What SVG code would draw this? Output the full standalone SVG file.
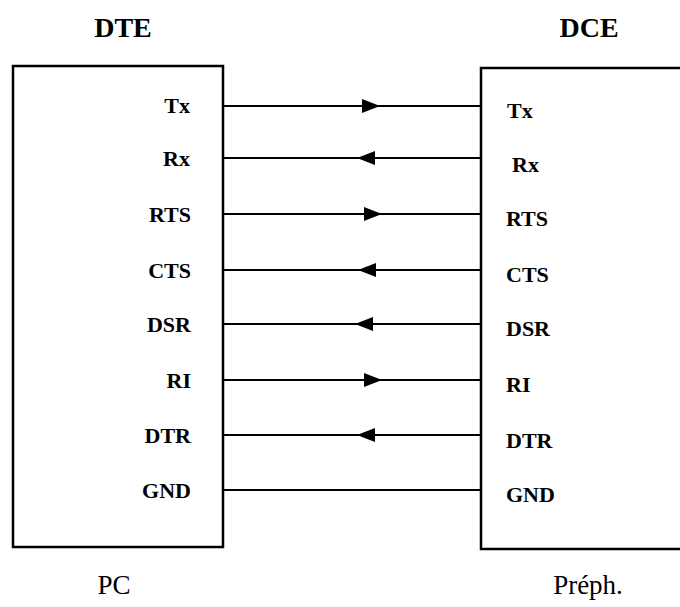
<svg xmlns="http://www.w3.org/2000/svg" width="680" height="607" viewBox="0 0 680 607">
  <style>
    .box { fill: #fff; stroke: #000; stroke-width: 2.5; }
    .wire { stroke: #000; stroke-width: 2; fill: none; }
    .head { fill: #000; }
    text { font-family: 'Liberation Serif', 'Times New Roman', serif; }
    .title { font-weight: bold; font-size: 28px; text-anchor: middle; }
    .sig { font-weight: bold; font-size: 22px; }
    .sigL { text-anchor: end; }
    .sigR { text-anchor: start; }
    .name { font-size: 27px; text-anchor: middle; }
  </style>
  <defs>
    <!-- filled arrowheads, tip at origin -->
    <polygon id="headRight" class="head" points="0,0 -18,-7 -18,7"/>
    <polygon id="headLeft" class="head" points="0,0 18,-7 18,7"/>
  </defs>

  <rect width="680" height="607" fill="#fff"/>

  <!-- Data terminal equipment -->
  <g id="dte">
    <text class="title" x="123" y="37">DTE</text>
    <rect class="box" x="13" y="66" width="210" height="481"/>
    <text class="sig sigL" x="190" y="113">Tx</text>
    <text class="sig sigL" x="190" y="166">Rx</text>
    <text class="sig sigL" x="191" y="222">RTS</text>
    <text class="sig sigL" x="191" y="278">CTS</text>
    <text class="sig sigL" x="191" y="332">DSR</text>
    <text class="sig sigL" x="191" y="388">RI</text>
    <text class="sig sigL" x="191" y="443">DTR</text>
    <text class="sig sigL" x="191" y="498">GND</text>
    <text class="name" x="114" y="594">PC</text>
  </g>

  <!-- Data communication equipment -->
  <g id="dce">
    <text class="title" x="589" y="37">DCE</text>
    <rect class="box" x="481" y="68" width="210" height="481"/>
    <text class="sig sigR" x="507" y="118">Tx</text>
    <text class="sig sigR" x="512" y="172">Rx</text>
    <text class="sig sigR" x="506" y="226">RTS</text>
    <text class="sig sigR" x="506" y="282">CTS</text>
    <text class="sig sigR" x="506" y="336">DSR</text>
    <text class="sig sigR" x="506" y="392">RI</text>
    <text class="sig sigR" x="506" y="448">DTR</text>
    <text class="sig sigR" x="506" y="502">GND</text>
    <text class="name" x="588" y="594">Préph.</text>
  </g>

  <!-- signal lines between the two devices -->
  <g id="connectors">
    <line class="wire" x1="223" y1="106" x2="481" y2="106"/>
    <use href="#headRight" x="380" y="106"/>
    <line class="wire" x1="223" y1="158" x2="481" y2="158"/>
    <use href="#headLeft" x="357" y="158"/>
    <line class="wire" x1="223" y1="214" x2="481" y2="214"/>
    <use href="#headRight" x="382" y="214"/>
    <line class="wire" x1="223" y1="270" x2="481" y2="270"/>
    <use href="#headLeft" x="358" y="270"/>
    <line class="wire" x1="223" y1="324" x2="481" y2="324"/>
    <use href="#headLeft" x="355" y="324"/>
    <line class="wire" x1="223" y1="380" x2="481" y2="380"/>
    <use href="#headRight" x="382" y="380"/>
    <line class="wire" x1="223" y1="435" x2="481" y2="435"/>
    <use href="#headLeft" x="357" y="435"/>
    <line class="wire" x1="223" y1="490" x2="481" y2="490"/>
  </g>
</svg>
